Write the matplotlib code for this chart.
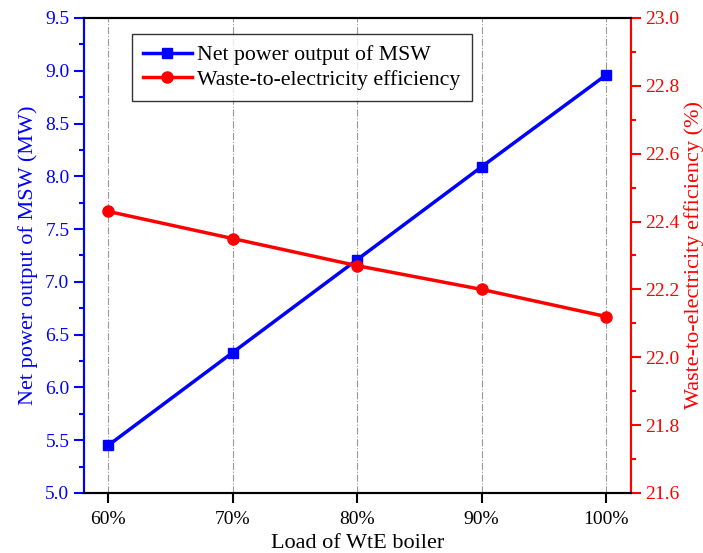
import matplotlib
matplotlib.use("Agg")
import matplotlib.pyplot as plt
from matplotlib.ticker import MultipleLocator, FormatStrFormatter

plt.rcParams['font.family'] = ['Liberation Serif', 'DejaVu Serif']
plt.rcParams['mathtext.fontset'] = 'stix'

loads = [60, 70, 80, 90, 100]
load_labels = ['60%', '70%', '80%', '90%', '100%']
net_power = [5.45, 6.33, 7.21, 8.09, 8.96]
efficiency = [22.43, 22.35, 22.27, 22.20, 22.12]

fig = plt.figure(figsize=(7.03, 5.53), dpi=100)
ax = fig.add_axes([0.1195, 0.1085, 0.7781, 0.859])
ax2 = ax.twinx()

l1, = ax.plot(loads, net_power, color='#0000FF', lw=2.5, marker='s', ms=7,
              label='Net power output of MSW', zorder=3)
l2, = ax2.plot(loads, efficiency, color='#FF0000', lw=2.5, marker='o', ms=8,
               label='Waste-to-electricity efficiency', zorder=3)

ax.set_xlim(58.07, 102.0)
ax.set_ylim(5.0, 9.5)
ax2.set_ylim(21.6, 23.0)
ax.set_xticks(loads)
ax.set_xticklabels(load_labels)
ax.yaxis.set_major_locator(MultipleLocator(0.5))
ax.yaxis.set_minor_locator(MultipleLocator(0.25))
ax2.yaxis.set_major_locator(MultipleLocator(0.2))
ax2.yaxis.set_minor_locator(MultipleLocator(0.1))
ax.yaxis.set_major_formatter(FormatStrFormatter('%.1f'))
ax2.yaxis.set_major_formatter(FormatStrFormatter('%.1f'))

ax.grid(axis='x', color='#999999', ls='-.', lw=0.8)

ax.tick_params(axis='x', direction='out', length=7, width=1.5, labelsize=14,
               colors='black', pad=6)
ax.tick_params(axis='y', which='major', direction='out', length=7, width=1.5,
               labelsize=14, colors='#0000FF')
ax.tick_params(axis='y', which='minor', direction='out', length=3.5, width=1.5, colors='#0000FF')
ax2.tick_params(axis='y', which='major', direction='out', length=7, width=1.5,
                labelsize=14, colors='#FF0000')
ax2.tick_params(axis='y', which='minor', direction='out', length=3.5, width=1.5, colors='#FF0000')

for a in (ax, ax2):
    for s in a.spines.values():
        s.set_linewidth(1.5)
ax2.spines['left'].set_color('#0000FF')
ax2.spines['right'].set_color('#FF0000')
ax2.spines['top'].set_color('black')
ax2.spines['bottom'].set_color('black')
ax.spines['left'].set_color('#0000FF')
ax.spines['right'].set_color('#FF0000')

ax.set_xlabel('Load of WtE boiler', fontsize=16, labelpad=4)
ax.set_ylabel('Net power output of MSW (MW)', fontsize=16, color='#0000FF', labelpad=5)
ax2.set_ylabel('Waste-to-electricity efficiency (%)', fontsize=16, color='#FF0000', labelpad=3)

leg = ax2.legend(handles=[l1, l2], loc='upper left', bbox_to_anchor=(0.0878, 0.966),
                 borderaxespad=0.0,
                 fontsize=15.7, frameon=True, fancybox=False, edgecolor='black',
                 handlelength=2.25, handletextpad=0.25, borderpad=0.5, labelspacing=0.2)
leg.get_frame().set_linewidth(1.0)

fig.savefig('out.png', dpi=100)
